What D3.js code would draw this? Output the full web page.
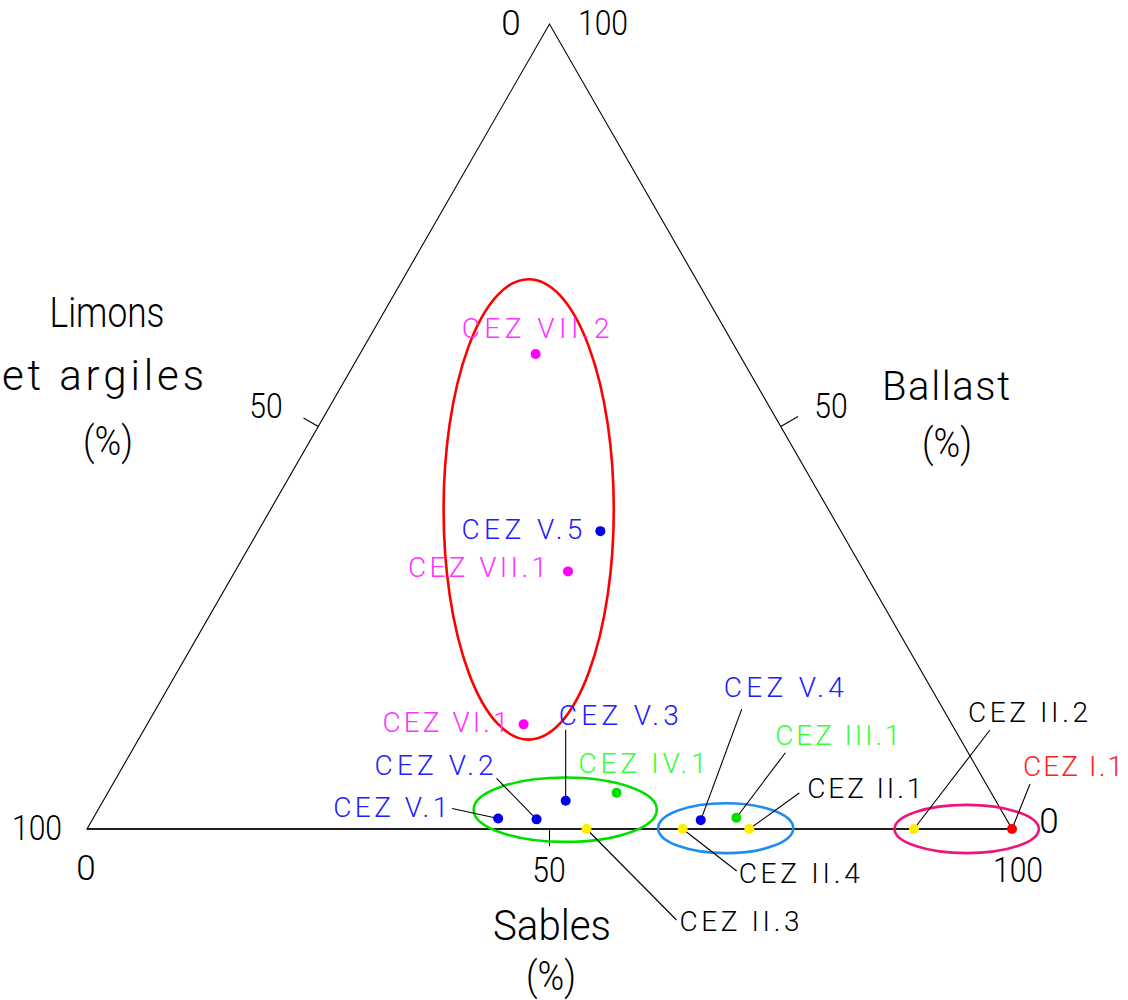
<!DOCTYPE html>
<html>
<head>
<meta charset="utf-8">
<script src="https://cdn.jsdelivr.net/npm/d3@7"></script>
<style>
  body { margin: 0; background: #fff; }
  text { font-family: Roboto, "DejaVu Sans", sans-serif; font-weight: 300; }
</style>
</head>
<body>
<script>
////////////////////////////////////////////////////////////////////////////////
// Diagramme ternaire : Sables / Limons et argiles / Ballast

const WIDTH = 1128;
const HEIGHT = 1000;

// sample names, sand % and ballast % (limons = 100 - sables - ballast)
const samples = ["CEZ VII.2", "CEZ V.5", "CEZ VII.1", "CEZ VI.1", "CEZ V.3", "CEZ IV.1",
                 "CEZ V.2", "CEZ V.1", "CEZ II.3", "CEZ II.4", "CEZ V.4", "CEZ III.1",
                 "CEZ II.1", "CEZ II.2", "CEZ I.1"];
const sables  = [19, 37, 36, 40.7, 50, 55, 48, 43.8, 54, 64.4, 65.8, 69.5, 71.6, 89.4, 100];
const ballast = [59, 37, 32, 13, 3.5, 4.5, 1.2, 1.3, 0, 0, 1.1, 1.4, 0, 0, 0];
const groups  = ["VII", "V", "VII", "VI", "V", "IV", "V", "V", "II", "II", "V", "III", "II", "II", "I"];

const axisTicks = [0, 50, 100];

// groupings drawn round the points (centre in sables/ballast, radii in %)
const clusterNames = ["rouge", "vert", "bleu", "rose"];
const clusterSables = [27.9, 50.5, 69, 95.1];
const clusterBallast = [39.7, 2.4, 0.1, 0];
const clusterRx = [9.2, 9.9, 7.3, 7.8];
const clusterRy = [28.6, 4.0, 3.1, 3.0];

////////////////////////////////////////////////////////////////////////////////
// styles

const dotColor = {I: "#ff0000", II: "#ffee00", III: "#00e000", IV: "#00e000",
                  V: "#0000ee", VI: "#ff00ff", VII: "#ff00ff"};
const textColor = {I: "#ff2020", II: "#000000", III: "#33ff33", IV: "#33ff33",
                   V: "#2020ff", VI: "#ff33ff", VII: "#ff33ff"};
const clusterColor = {rouge: "#ff0000", vert: "#00e000", bleu: "#1e8cf0", rose: "#f0147a"};

// label placement relative to the point: text start (dx, dy), drawn width w, leader end (lx, ly)
const labelPos = {
  "CEZ VII.2": {dx: -74, dy: -16, w: 148},
  "CEZ V.5":   {dx: -139, dy: 8, w: 121},
  "CEZ VII.1": {dx: -160, dy: 6, w: 139},
  "CEZ VI.1":  {dx: -141, dy: 8, w: 126},
  "CEZ V.3":   {dx: -7, dy: -76, w: 120, lx: 0, ly: -71},
  "CEZ IV.1":  {dx: -38, dy: -20, w: 128},
  "CEZ V.2":   {dx: -162, dy: -44, w: 119, lx: -40, ly: -41},
  "CEZ V.1":   {dx: -165, dy: -2, w: 115, lx: -46, ly: -10},
  "CEZ II.3":  {dx: 93, dy: 102, w: 120, lx: 90, ly: 91},
  "CEZ II.4":  {dx: 56, dy: 54, w: 121, lx: 54, ly: 42},
  "CEZ V.4":   {dx: 23, dy: -123, w: 120, lx: 41, ly: -111},
  "CEZ III.1": {dx: 39, dy: -73, w: 125, lx: 49, ly: -65},
  "CEZ II.1":  {dx: 58, dy: -31, w: 115, lx: 50, ly: -36},
  "CEZ II.2":  {dx: 54, dy: -107, w: 120, lx: 76, ly: -99},
  "CEZ I.1":   {dx: 11, dy: -53, w: 100, lx: 18, ly: -45}
};

////////////////////////////////////////////////////////////////////////////////
// scales : x along the base (sables + ballast/2), y from ballast

const x0 = 87, x1 = 1012, yBase = 829, yTop = 24;

let xScale = d3.scaleLinear().domain([0, 100]).range([x0, x1]);
let yScale = d3.scaleLinear().domain([0, 100]).range([yBase, yTop]);

const px = (s, b) => xScale(s + b / 2);
const py = b => yScale(b);

let svg = d3.select("body").append("svg")
    .attr("width", WIDTH)
    .attr("height", HEIGHT);

// triangle
const A = [px(0, 0), py(0)], B = [px(100, 0), py(0)], C = [px(0, 100), py(100)];
svg.append("path")
    .attr("d", "M" + A + "L" + B + "L" + C + "Z")
    .attr("fill", "none")
    .attr("stroke", "#000")
    .attr("stroke-width", 1.1);
svg.append("line")
    .attr("x1", A[0]).attr("y1", A[1]).attr("x2", B[0]).attr("y2", B[1])
    .attr("stroke", "#000").attr("stroke-width", 1.6);

// 50 ticks
const mid = (p, q) => [(p[0] + q[0]) / 2, (p[1] + q[1]) / 2];
const ticks50 = [
  {p: mid(A, B), d: [0, 1], len: 17},
  {p: mid(A, C), d: [-0.866, -0.5], len: 17},
  {p: mid(B, C), d: [0.866, -0.5], len: 20}
];
svg.selectAll(".tick50").data(ticks50).enter().append("line")
    .attr("x1", d => d.p[0]).attr("y1", d => d.p[1])
    .attr("x2", d => d.p[0] + d.d[0] * d.len).attr("y2", d => d.p[1] + d.d[1] * d.len)
    .attr("stroke", "#000").attr("stroke-width", 1.1);

// fit a text to a drawn width: widen the spacing, or squeeze the glyphs if too wide
function fitWidth(node, width) {
  let natural = node.getComputedTextLength();
  d3.select(node)
      .attr("textLength", width)
      .attr("lengthAdjust", natural > width ? "spacingAndGlyphs" : "spacing");
}

function label(g, txt, x, y, size, width, anchor) {
  let t = g.append("text")
      .attr("x", x).attr("y", y)
      .attr("font-size", size)
      .attr("text-anchor", anchor || "middle")
      .attr("fill", "#000")
      .text(txt);
  if (width) fitWidth(t.node(), width);
  return t;
}

// tick labels (0 / 50 / 100 on each side)
const numW = n => String(n).length * 16.7;
const t0 = axisTicks[0], t50 = axisTicks[1], t100 = axisTicks[2];
label(svg, t0, 511, 35, 35);
label(svg, t100, 603, 35, 35, numW(t100));
label(svg, t50, 266, 418, 35, numW(t50));
label(svg, t50, 831, 418, 35, numW(t50));
label(svg, t100, 37, 840, 35, numW(t100));
label(svg, t0, 86, 880, 35);
label(svg, t50, 549, 882, 35, numW(t50));
label(svg, t100, 1018, 882, 35, numW(t100));
label(svg, t0, 1049, 833, 35);

// axis titles
label(svg, "Limons", 107, 327, 42, 115);
label(svg, "et argiles", 103, 390, 42, 202);
label(svg, "(%)", 108, 455, 40, 50);
label(svg, "Ballast", 946, 400, 40, 128);
label(svg, "(%)", 947, 457, 40, 50);
label(svg, "Sables", 552, 940, 42, 118);
label(svg, "(%)", 551, 990, 40, 50);

// cluster ellipses
svg.selectAll(".cluster").data(clusterNames).enter().append("ellipse")
    .attr("cx", (d, i) => px(clusterSables[i], clusterBallast[i]))
    .attr("cy", (d, i) => py(clusterBallast[i]))
    .attr("rx", (d, i) => xScale(clusterRx[i]) - xScale(0))
    .attr("ry", (d, i) => yScale(0) - yScale(clusterRy[i]))
    .attr("fill", "none")
    .attr("stroke", d => clusterColor[d])
    .attr("stroke-width", 2.6);

// points
const data = samples.map((name, i) => ({
  name: name, group: groups[i],
  x: px(sables[i], ballast[i]), y: py(ballast[i])
}));

// leader lines
svg.selectAll(".leader").data(data.filter(d => labelPos[d.name].lx !== undefined))
  .enter().append("line")
    .attr("x1", d => d.x).attr("y1", d => d.y)
    .attr("x2", d => d.x + labelPos[d.name].lx)
    .attr("y2", d => d.y + labelPos[d.name].ly)
    .attr("stroke", "#000").attr("stroke-width", 1.1);

svg.selectAll(".dot").data(data).enter().append("circle")
    .attr("cx", d => d.x).attr("cy", d => d.y)
    .attr("r", 5)
    .attr("fill", d => dotColor[d.group]);

svg.selectAll(".lbl").data(data).enter().append("text")
    .attr("x", d => d.x + labelPos[d.name].dx)
    .attr("y", d => d.y + labelPos[d.name].dy)
    .attr("font-size", 28)
    .attr("fill", d => textColor[d.group])
    .text(d => d.name)
    .each(function(d) { fitWidth(this, labelPos[d.name].w); });
</script>
</body>
</html>
